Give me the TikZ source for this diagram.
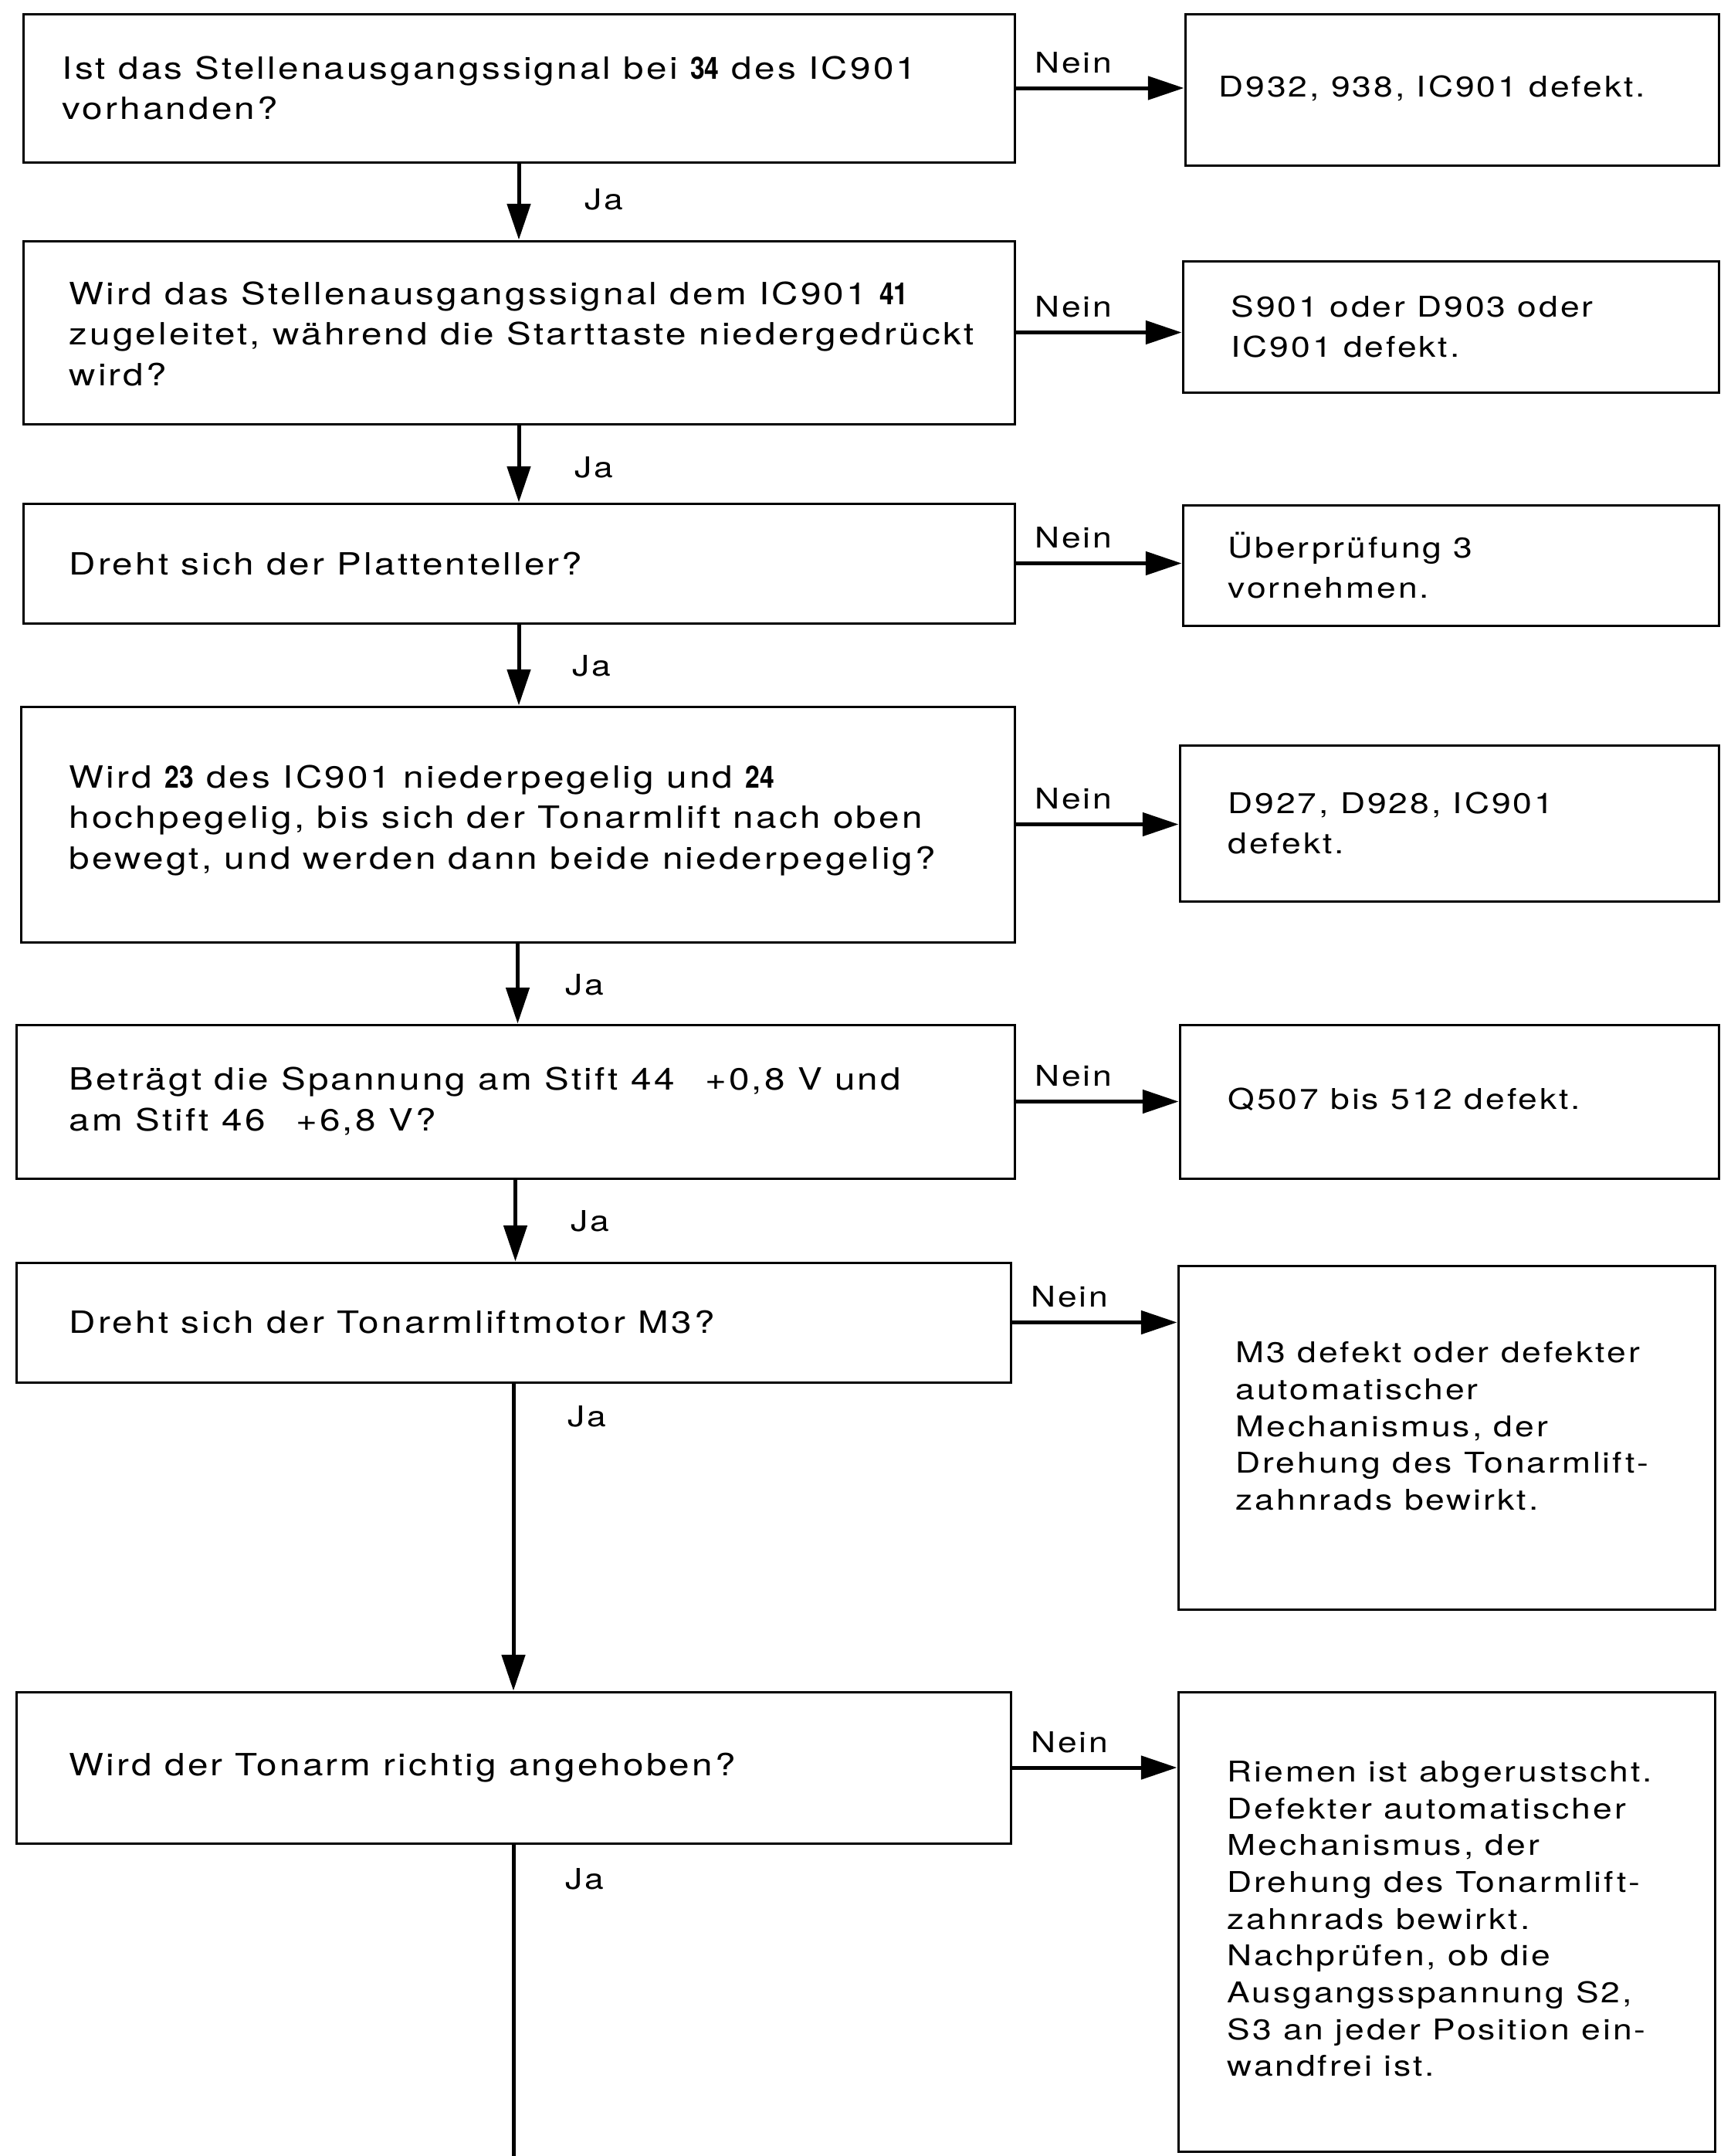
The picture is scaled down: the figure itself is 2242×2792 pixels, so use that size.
\documentclass[tikz,border=0pt]{standalone}
\usepackage{fontspec}
\setmainfont{TeX Gyre Heros}[FakeStretch=1.2,LetterSpace=8]
\newfontfamily\pinfont{TeX Gyre Heros}[FakeStretch=0.85]
\usetikzlibrary{arrows.meta,fit,calc}
% pin numbers of the IC, set bold and narrow
\newcommand\pin[1]{{\pinfont\bfseries #1}}

\begin{document}
\begin{tikzpicture}[x=0.3pt,y=-0.3pt,
  box/.style={draw, line width=0.9pt, inner sep=0pt},
  qtext/.style={anchor=west, align=left, inner sep=0pt,
    font=\fontsize{11.9}{15.75}\selectfont},
  atext/.style={anchor=west, align=left, inner sep=0pt,
    font=\fontsize{11.1}{15.6}\selectfont},
  longtext/.style={anchor=west, align=left, inner sep=0pt,
    font=\fontsize{11.1}{14.3}\selectfont},
  lbl/.style={inner sep=0pt, font=\fontsize{11.1}{13}\selectfont},
  flow/.style={line width=1.5pt, -{Triangle[length=14pt,width=9pt]}},
]
\useasboundingbox (0,0) rectangle (2242,2792);

% question boxes
\node[box, fit={(30,18) (1314,210)}]   (q1) {};
\node[box, fit={(30,312) (1314,549)}]  (q2) {};
\node[box, fit={(30,652) (1314,807)}]  (q3) {};
\node[box, fit={(27,915) (1314,1220)}] (q4) {};
\node[box, fit={(21,1327) (1314,1526)}] (q5) {};
\node[box, fit={(21,1635) (1309,1790)}] (q6) {};
\node[box, fit={(21,2191) (1309,2387)}] (q7) {};

\node[qtext] (q1t) at (80,114) {Ist das Stellenausgangssignal bei \pin{34} des IC901\\vorhanden?};
\node[qtext] (q2t) at (89,432) {Wird das Stellenausgangssignal dem IC901 \pin{41}\\zugeleitet, während die Starttaste niedergedrückt\\wird?};
\node[qtext] (q3t) at (89,730) {Dreht sich der Plattenteller?};
\node[qtext] (q4t) at (89,1062) {Wird \pin{23} des IC901 niederpegelig und \pin{24}\\hochpegelig, bis sich der Tonarmlift nach oben\\bewegt, und werden dann beide niederpegelig?};
\node[qtext] (q5t) at (89,1426) {Beträgt die Spannung am Stift 44\quad +0,8 V und\\am Stift 46\quad +6,8 V?};
\node[qtext] (q6t) at (89,1712) {Dreht sich der Tonarmliftmotor M3?};
\node[qtext] (q7t) at (89,2289) {Wird der Tonarm richtig angehoben?};

% answer boxes
\node[box, fit={(1535,18) (2226,214)}]   (a1) {};
\node[box, fit={(1532,338) (2226,508)}]  (a2) {};
\node[box, fit={(1532,654) (2226,810)}]  (a3) {};
\node[box, fit={(1528,965) (2226,1167)}] (a4) {};
\node[box, fit={(1528,1327) (2226,1526)}] (a5) {};
\node[box, fit={(1526,1639) (2221,2084)}] (a6) {};
\node[box, fit={(1526,2191) (2221,2786)}] (a7) {};

\node[atext] (a1t) at (1578,114) {D932, 938, IC901 defekt.};
\node[atext] (a2t) at (1594,423) {S901 oder D903 oder\\IC901 defekt.};
\node[atext] (a3t) at (1590,732) {Überprüfung 3\\vornehmen.};
\node[atext] (a4t) at (1590,1066) {D927, D928, IC901\\defekt.};
\node[atext] (a5t) at (1590,1424) {Q507 bis 512 defekt.};
\node[longtext] (a6t) at (1600,1847) {M3 defekt oder defekter\\automatischer\\Mechanismus, der\\Drehung des Tonarmlift-\\zahnrads bewirkt.};
\node[longtext] (a7t) at (1589,2485) {Riemen ist abgerustscht.\\Defekter automatischer\\Mechanismus, der\\Drehung des Tonarmlift-\\zahnrads bewirkt.\\Nachprüfen, ob die\\Ausgangsspannung S2,\\S3 an jeder Position ein-\\wandfrei ist.};

% "Ja" branches
\draw[flow] (q1.south) -- (q1.south |- q2.north);
\draw[flow] (q2.south) -- (q2.south |- q3.north);
\draw[flow] (q3.south) -- (q3.south |- q4.north);
\draw[flow] (q4.south) -- (q4.south |- q5.north);
\draw[flow] (q5.south) -- (q5.south |- q6.north);
\draw[flow] (q6.south) -- (q6.south |- q7.north);
\coordinate (tail) at (665,2792);
\draw[line width=1.5pt] (q7.south) -- (q7.south |- tail);

\node[lbl, anchor=west] (j1) at (757,258)  {Ja};
\node[lbl, anchor=west] (j2) at (744,605)  {Ja};
\node[lbl, anchor=west] (j3) at (741,862)  {Ja};
\node[lbl, anchor=west] (j4) at (732,1275) {Ja};
\node[lbl, anchor=west] (j5) at (739,1581) {Ja};
\node[lbl, anchor=west] (j6) at (735,1834) {Ja};
\node[lbl, anchor=west] (j7) at (732,2433) {Ja};

% "Nein" branches
\foreach \i in {1,...,7}{
  \draw[flow] (q\i.east) -- (q\i.east -| a\i.west);
  \node[lbl, anchor=base west] (n\i) at ($(q\i.east)+(24,-20)$) {Nein};
}
\end{tikzpicture}
\end{document}
